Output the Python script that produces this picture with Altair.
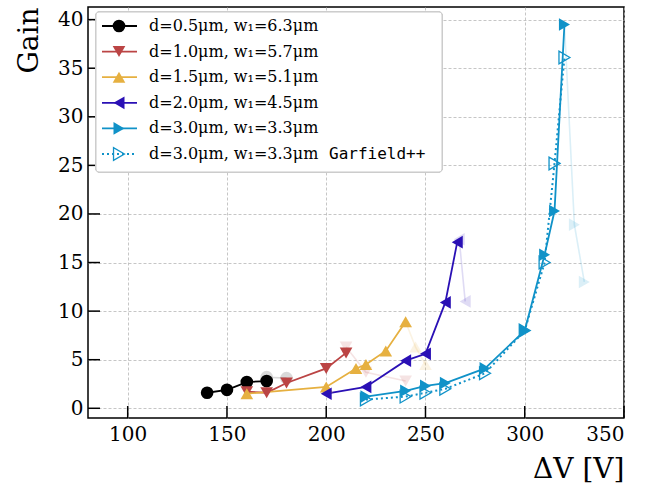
import altair as alt
import pandas as pd

# ---------------- data ----------------
series_keys = ["s05", "s10", "s15", "s20", "s30", "garf"]
series_labels = [
    "d=0.5μm, w₁=6.3μm",
    "d=1.0μm, w₁=5.7μm",
    "d=1.5μm, w₁=5.1μm",
    "d=2.0μm, w₁=4.5μm",
    "d=3.0μm, w₁=3.3μm",
    "d=3.0μm, w₁=3.3μm",
]
garfield_suffix = "Garfield++"
colors = ["#000000", "#bb4444", "#e6b040", "#2a10b5", "#1092c8", "#1092c8"]
shapes = ["circle", "triangle-down", "triangle-up", "triangle-left", "triangle-right", "triangle-right"]

s05_v = [140, 150, 160, 170]
s05_g = [1.6, 1.9, 2.7, 2.8]
s10_v = [160, 170, 180, 200, 210]
s10_g = [1.7, 1.6, 2.6, 4.1, 5.7]
s15_v = [160, 200, 215, 220, 230, 240]
s15_g = [1.5, 2.2, 4.1, 4.5, 5.9, 8.9]
s20_v = [200, 220, 240, 250, 260, 266]
s20_g = [1.5, 2.2, 4.9, 5.6, 10.9, 17.1]
s30_v = [220, 240, 250, 260, 280, 300, 310, 315, 320]
s30_g = [1.2, 1.8, 2.3, 2.6, 4.1, 8.0, 15.8, 20.3, 39.5]
garf_v = [220, 240, 250, 260, 280, 300, 310, 315, 320]
garf_g = [0.9, 1.2, 1.6, 2.0, 3.6, 8.0, 15.0, 25.2, 36.1]

# faded (excluded) measurements
g05_v = [170, 180]
g05_g = [3.2, 3.1]
g10_v = [210, 220, 240]
g10_g = [6.3, 3.7, 2.8]
g15_v = [240, 245, 250]
g15_g = [8.9, 6.3, 4.5]
g20_v = [267, 270]
g20_g = [17.4, 11.0]
g30_v = [320, 325, 330]
g30_g = [39.5, 18.9, 13.0]

x_ticks = [100, 150, 200, 250, 300, 350]
y_ticks = [0, 5, 10, 15, 20, 25, 30, 35, 40]


def frame(v, g, key):
    return pd.DataFrame({"V": v, "G": g, "series": key, "order": list(range(len(v)))})


main_df = pd.concat([
    frame(s05_v, s05_g, "s05"),
    frame(s10_v, s10_g, "s10"),
    frame(s15_v, s15_g, "s15"),
    frame(s20_v, s20_g, "s20"),
    frame(s30_v, s30_g, "s30"),
], ignore_index=True)
garf_df = frame(garf_v, garf_g, "garf")
ghost_df = pd.concat([
    frame(g05_v, g05_g, "s05"),
    frame(g10_v, g10_g, "s10"),
    frame(g15_v, g15_g, "s15"),
    frame(g20_v, g20_g, "s20"),
    frame(g30_v, g30_g, "s30"),
], ignore_index=True)
legend_df = pd.DataFrame({"series": series_keys, "label": series_labels, "row": list(range(6))})
xt_df = pd.DataFrame({"V": x_ticks})
yt_df = pd.DataFrame({"G": y_ticks})

# ---------------- layout ----------------
W, H = 536, 411
FONT = "DejaVu Serif"
MS = 160

xs = alt.Scale(domain=[80, 350], nice=False, zero=False)
ys = alt.Scale(domain=[-1, 41.3], nice=False, zero=False)
col = alt.Color("series:N", scale=alt.Scale(domain=series_keys, range=colors), legend=None)
shp = alt.Shape("series:N", scale=alt.Scale(domain=series_keys, range=shapes), legend=None)

X = alt.X("V:Q", scale=xs, axis=alt.Axis(
    values=x_ticks, title="ΔV [V]", titleAnchor="end", titleFontSize=28, titleFont=FONT,
    titleFontWeight="normal", titleColor="black", titlePadding=11,
    labelFont=FONT, labelFontSize=20, labelColor="black", labelPadding=6,
    ticks=False, domain=False, grid=True, gridColor="#b8b8b8", gridDash=[3, 2], gridWidth=0.8))
Y = alt.Y("G:Q", scale=ys, axis=alt.Axis(
    values=y_ticks, title="Gain", titleAnchor="end", titleFontSize=28, titleFont=FONT,
    titleFontWeight="normal", titleColor="black", titlePadding=14,
    labelFont=FONT, labelFontSize=20, labelColor="black", labelPadding=5,
    ticks=False, domain=False, grid=True, gridColor="#b8b8b8", gridDash=[3, 2], gridWidth=0.8))

ghost_lines = alt.Chart(ghost_df).mark_line(strokeWidth=1.6, opacity=0.15).encode(
    x=X, y=Y, color=col, detail="series:N", order="order:Q")
ghost_pts = alt.Chart(ghost_df).mark_point(filled=True, size=MS, opacity=0.15).encode(
    x=X, y=Y, color=col, shape=shp)

lines = alt.Chart(main_df).mark_line(strokeWidth=1.8).encode(
    x=X, y=Y, color=col, detail="series:N", order="order:Q")
pts = alt.Chart(main_df).mark_point(filled=True, size=MS, opacity=1).encode(
    x=X, y=Y, color=col, shape=shp)

garf_line = alt.Chart(garf_df).mark_line(strokeWidth=2, strokeDash=[2, 3]).encode(
    x=X, y=Y, color=col, order="order:Q")
garf_pts = alt.Chart(garf_df).mark_point(filled=False, size=MS, strokeWidth=1.3, opacity=1).encode(
    x=X, y=Y, color=col, shape=shp)

xticks = alt.Chart(xt_df).mark_rule(color="black", strokeWidth=1.5).encode(
    x=X, y=alt.value(H), y2=alt.value(H - 12))
yticks = alt.Chart(yt_df).mark_rule(color="black", strokeWidth=1.5).encode(
    y=Y, x=alt.value(0), x2=alt.value(12))

# legend (drawn inside the plot area, like the original's boxed legend)
leg_box = alt.Chart(legend_df).mark_rect(
    fill="white", fillOpacity=0.85, stroke="#cccccc", strokeWidth=1, cornerRadius=3
).encode(x=alt.value(8), x2=alt.value(354), y=alt.value(5), y2=alt.value(165))

leg_base = alt.Chart(legend_df).transform_calculate(ly="19 + datum.row * 25.6")
LYQ = alt.Y("ly:Q", scale=None, axis=None)
leg_line = leg_base.transform_filter("datum.series != 'garf'").mark_rule(strokeWidth=1.8).encode(
    x=alt.value(14), x2=alt.value(49), y=LYQ, color=col)
leg_line_g = leg_base.transform_filter("datum.series == 'garf'").mark_rule(
    strokeWidth=2, strokeDash=[2, 3]).encode(
    x=alt.value(14), x2=alt.value(49), y=LYQ, color=col)
leg_pt = leg_base.transform_filter("datum.series != 'garf'").mark_point(
    filled=True, size=MS, opacity=1).encode(
    x=alt.value(31), y=LYQ, color=col, shape=shp)
leg_pt_g = leg_base.transform_filter("datum.series == 'garf'").mark_point(
    filled=False, size=MS, strokeWidth=1.3, opacity=1).encode(
    x=alt.value(31), y=LYQ, color=col, shape=shp)
leg_txt = leg_base.mark_text(align="left", baseline="middle", font=FONT, fontSize=16, color="black").encode(
    x=alt.value(61), y=LYQ, text="label:N")
leg_txt_g = leg_base.transform_filter("datum.series == 'garf'").transform_calculate(
    suffix="'" + garfield_suffix + "'").mark_text(
    align="left", baseline="middle", font="DejaVu Sans Mono", fontSize=16, color="black").encode(
    x=alt.value(241), y=LYQ, text="suffix:N")

data_layer = alt.layer(ghost_lines, ghost_pts, lines, garf_line, garf_pts, pts, xticks, yticks)
legend_layer = alt.layer(leg_box, leg_line, leg_line_g, leg_pt, leg_pt_g, leg_txt, leg_txt_g)

chart = alt.layer(data_layer, legend_layer).resolve_scale(y="independent").resolve_axis(
    y="independent"
).properties(
    width=W, height=H,
    autosize=alt.AutoSizeParams(type="none"),
    padding={"left": 88, "top": 7, "right": 43, "bottom": 70},
    background="white",
).configure_view(stroke="black", strokeWidth=1.5)

chart.save("out.html", embed_options={"renderer": "svg", "actions": False})
